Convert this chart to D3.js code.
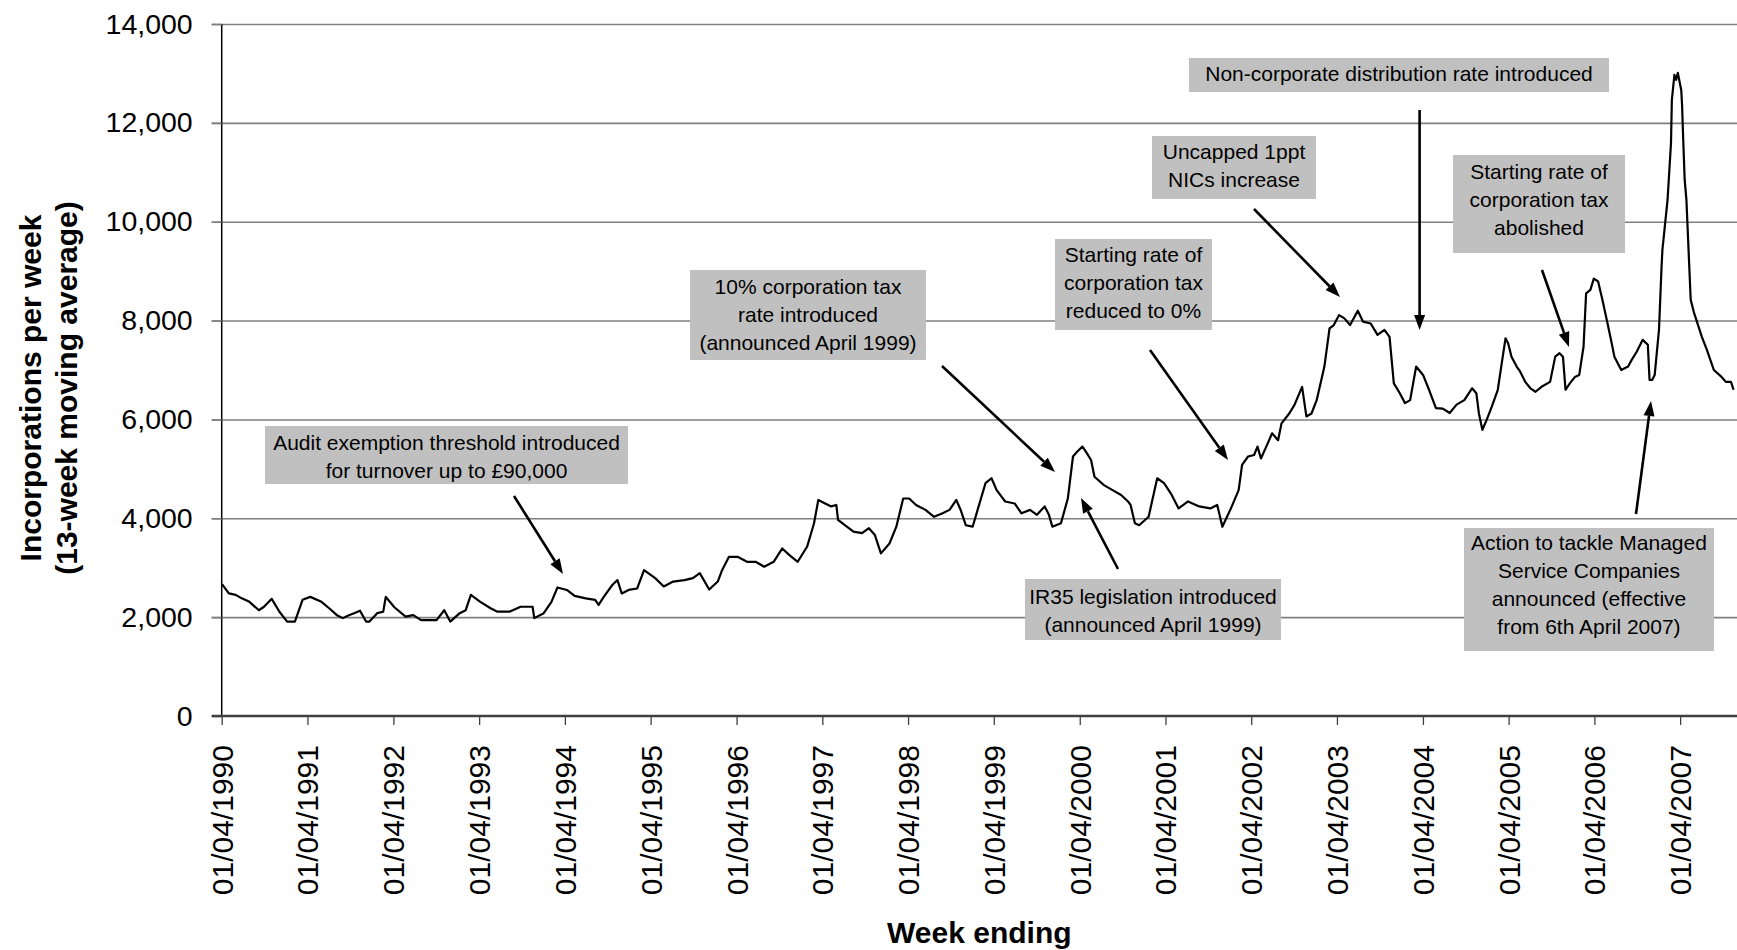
<!DOCTYPE html>
<html>
<head>
<meta charset="utf-8">
<script src="https://cdn.jsdelivr.net/npm/d3@7"></script>
<style>
  html, body { margin: 0; padding: 0; background: #fff; }
  svg { display: block; }
  text { font-family: "Liberation Sans", Arial, Helvetica, sans-serif; }
</style>
</head>
<body>
<svg id="chart" width="1737" height="950"></svg>
<script>
// ---------------- DATA ----------------
// week ending, expressed as decimal years
const weekEnding = [
  1990.25,1990.33,1990.41,1990.48,1990.57,1990.68,1990.74,1990.83,1990.92,1991.01,
  1991.10,1991.19,1991.28,1991.41,1991.50,1991.59,1991.66,1991.73,1991.79,1991.86,
  1991.93,1991.97,1992.06,1992.13,1992.16,1992.26,1992.39,1992.48,1992.57,1992.75,
  1992.84,1992.91,1993.02,1993.09,1993.15,1993.26,1993.38,1993.46,1993.60,1993.73,
  1993.87,1993.89,1994.00,1994.09,1994.16,1994.27,1994.36,1994.49,1994.60,1994.64,
  1994.70,1994.80,1994.86,1994.91,1994.99,1995.09,1995.17,1995.30,1995.40,1995.51,
  1995.64,1995.74,1995.82,1995.93,1996.03,1996.08,1996.16,1996.26,1996.37,1996.47,
  1996.57,1996.68,1996.78,1996.86,1996.96,1997.07,1997.15,1997.20,1997.28,1997.35,
  1997.41,1997.43,1997.51,1997.61,1997.71,1997.79,1997.86,1997.93,1998.03,1998.11,
  1998.19,1998.26,1998.34,1998.45,1998.55,1998.65,1998.73,1998.81,1998.86,1998.92,
  1999.00,1999.07,1999.15,1999.22,1999.28,1999.38,1999.49,1999.57,1999.67,1999.75,
  1999.84,1999.89,1999.93,2000.03,2000.11,2000.17,2000.22,2000.28,2000.32,2000.38,
  2000.42,2000.53,2000.63,2000.73,2000.81,2000.84,2000.89,2000.94,2001.05,2001.15,
  2001.23,2001.31,2001.40,2001.51,2001.64,2001.77,2001.85,2001.91,2002.01,2002.10,
  2002.14,2002.21,2002.28,2002.32,2002.36,2002.43,2002.49,2002.56,2002.60,2002.69,
  2002.75,2002.84,2002.89,2002.95,2003.01,2003.10,2003.16,2003.21,2003.27,2003.33,
  2003.40,2003.49,2003.55,2003.64,2003.72,2003.80,2003.86,2003.91,2003.98,2004.04,
  2004.10,2004.17,2004.25,2004.32,2004.40,2004.48,2004.56,2004.64,2004.73,2004.82,
  2004.87,2004.90,2004.94,2004.99,2005.05,2005.12,2005.16,2005.21,2005.24,2005.28,
  2005.34,2005.38,2005.44,2005.50,2005.56,2005.63,2005.73,2005.79,2005.84,2005.88,
  2005.91,2005.96,2006.02,2006.07,2006.12,2006.15,2006.20,2006.24,2006.29,2006.34,
  2006.40,2006.44,2006.48,2006.56,2006.64,2006.68,2006.74,2006.81,2006.87,2006.89,
  2006.92,2006.95,2007.00,2007.03,2007.04,2007.10,2007.14,2007.15,2007.18,2007.20,
  2007.22,2007.26,2007.27,2007.28,2007.30,2007.32,2007.37,2007.41,2007.45,2007.50,
  2007.56,2007.60,2007.64,2007.73,2007.78,2007.84,2007.87
];
// incorporations per week (13-week moving average)
const incorporations = [
  2670,2480,2450,2380,2310,2140,2210,2370,2110,1910,
  1910,2350,2410,2310,2180,2040,1980,2040,2080,2130,
  1910,1910,2080,2110,2410,2200,2010,2040,1940,1940,
  2140,1910,2080,2140,2450,2310,2180,2110,2110,2210,
  2210,1980,2080,2310,2600,2550,2430,2380,2350,2250,
  2410,2650,2750,2480,2550,2580,2950,2790,2620,2720,
  2750,2790,2890,2560,2720,2950,3220,3220,3120,3120,
  3020,3120,3390,3260,3120,3430,3900,4370,4300,4240,
  4270,3970,3860,3730,3700,3800,3660,3290,3490,3830,
  4400,4400,4270,4170,4030,4100,4170,4370,4170,3860,
  3830,4240,4710,4810,4570,4340,4300,4100,4170,4070,
  4240,4070,3830,3900,4400,5250,5350,5450,5350,5180,
  4840,4670,4570,4470,4340,4270,3900,3860,4030,4810,
  4710,4500,4200,4340,4240,4200,4270,3830,4200,4570,
  5080,5250,5280,5450,5210,5480,5720,5580,5920,6120,
  6290,6660,6060,6120,6390,7070,7840,7910,8110,8050,
  7910,8200,7980,7940,7710,7810,7670,6730,6530,6330,
  6390,7070,6900,6600,6230,6220,6130,6300,6390,6630,
  6530,6120,5790,5990,6260,6600,7070,7640,7540,7270,
  7070,6970,6760,6630,6560,6660,6760,7270,7340,7270,
  6600,6730,6860,6900,7470,8550,8620,8850,8790,8420,
  7940,7610,7270,7000,7070,7200,7370,7610,7510,6800,
  6800,6900,7810,9090,9430,10440,11590,12460,12970,12870,
  13010,12660,12330,11790,10840,10440,8420,8150,7940,7670,
  7400,7200,7000,6860,6760,6760,6600
];
const yTicks = [0, 2000, 4000, 6000, 8000, 10000, 12000, 14000];
const xTickYears = [1990,1991,1992,1993,1994,1995,1996,1997,1998,1999,2000,2001,2002,2003,2004,2005,2006,2007];

// annotation texts and where they point (decimal year / value of target)
const noteTexts = [
  ["Audit exemption threshold introduced", "for turnover up to £90,000"],
  ["10% corporation tax", "rate introduced", "(announced April 1999)"],
  ["Starting rate of", "corporation tax", "reduced to 0%"],
  ["Uncapped 1ppt", "NICs increase"],
  ["Non-corporate distribution rate introduced"],
  ["Starting rate of", "corporation tax", "abolished"],
  ["IR35 legislation introduced", "(announced April 1999)"],
  ["Action to tackle Managed", "Service Companies", "announced (effective", "from 6th April 2007)"]
];

// ---------------- LAYOUT ----------------
const W = 1737, H = 950;
const plotLeft = 221.7, plotRight = 1737, plotTop = 24, plotBottom = 716;

function decToDate(t) {
  const y = Math.floor(t);
  const s = new Date(y, 0, 1), e = new Date(y + 1, 0, 1);
  return new Date(+s + (t - y) * (e - s));
}

const x = d3.scaleTime()
  .domain([new Date(1990, 3, 1), decToDate(2007.91)])
  .range([plotLeft, plotRight]);
const y = d3.scaleLinear().domain([0, 14000]).range([plotBottom, plotTop]);

const svg = d3.select("#chart");
svg.append("rect").attr("width", W).attr("height", H).attr("fill", "#fff");

// gridlines
const grid = svg.append("g").attr("transform", `translate(${plotLeft},0)`)
  .call(d3.axisLeft(y).tickValues(yTicks.filter(v => v > 0)).tickSize(-(plotRight - plotLeft)).tickFormat(""));
grid.select(".domain").remove();
grid.selectAll("line").attr("stroke", "#808080").attr("stroke-width", 1.6).attr("x1", -10);

// y axis
const yAxis = svg.append("g").attr("transform", `translate(${plotLeft},0)`)
  .call(d3.axisLeft(y).tickValues(yTicks).tickFormat(d3.format(",")).tickSize(10).tickPadding(19));
yAxis.select(".domain").attr("stroke", "#000").attr("stroke-width", 1.5)
  .attr("d", `M0,${plotTop}V${plotBottom}`);
yAxis.selectAll(".tick line").attr("stroke", "#808080").attr("stroke-width", 1.6);
yAxis.selectAll(".tick text")
  .attr("font-size", 28.5).attr("fill", "#000")
  .attr("font-family", "'Liberation Sans', Arial, sans-serif");

// x axis
const xAxis = svg.append("g").attr("transform", `translate(0,${plotBottom})`)
  .call(d3.axisBottom(x)
    .tickValues(xTickYears.map(yr => new Date(yr, 3, 1)))
    .tickFormat(d3.timeFormat("%d/%m/%Y"))
    .tickSize(9).tickPadding(0));
xAxis.select(".domain").attr("stroke", "#404040").attr("stroke-width", 2.6)
  .attr("d", `M${plotLeft - 10},0H${plotRight}`);
xAxis.selectAll(".tick line").attr("stroke", "#404040").attr("stroke-width", 1.3);
xAxis.selectAll(".tick text")
  .attr("font-size", 30).attr("fill", "#000")
  .attr("font-family", "'Liberation Sans', Arial, sans-serif")
  .attr("text-anchor", "end")
  .attr("transform", "rotate(-90)")
  .attr("x", -29).attr("y", 0).attr("dy", "0.35em");

// axis titles
svg.append("text")
  .attr("x", (plotLeft + plotRight) / 2).attr("y", 943)
  .attr("text-anchor", "middle").attr("font-size", 30).attr("font-weight", "bold")
  .text("Week ending");
const yTitle = svg.append("text")
  .attr("transform", "translate(0,388) rotate(-90)")
  .attr("text-anchor", "middle").attr("font-size", 30).attr("font-weight", "bold");
yTitle.append("tspan").attr("x", 0).attr("y", 40.5).text("Incorporations per week");
yTitle.append("tspan").attr("x", 0).attr("y", 76.5).text("(13-week moving average)");

// data line
const series = weekEnding.map((t, i) => ({ date: decToDate(t), value: incorporations[i] }));
svg.append("path")
  .datum(series)
  .attr("fill", "none").attr("stroke", "#000").attr("stroke-width", 2.2)
  .attr("stroke-linejoin", "round")
  .attr("d", d3.line().x(d => x(d.date)).y(d => y(d.value)));

// annotation boxes (layout positions in pixels)
const boxes = [
  { x0: 265, y0: 426, x1: 628, y1: 484, cy: 442.5 },
  { x0: 690, y0: 270, x1: 926, y1: 360, cy: 286 },
  { x0: 1055, y0: 239, x1: 1212, y1: 330, cy: 254 },
  { x0: 1152, y0: 136, x1: 1316, y1: 199, cy: 151.5 },
  { x0: 1189, y0: 58, x1: 1609, y1: 92, cy: 73 },
  { x0: 1453, y0: 155, x1: 1625, y1: 253, cy: 171.5 },
  { x0: 1025, y0: 579, x1: 1281, y1: 640, cy: 596 },
  { x0: 1464, y0: 528, x1: 1714, y1: 651, cy: 542.5 }
];
const lineGap = 28;
boxes.forEach((b, i) => {
  svg.append("rect").attr("x", b.x0).attr("y", b.y0)
    .attr("width", b.x1 - b.x0).attr("height", b.y1 - b.y0).attr("fill", "#c0c0c0");
  const t = svg.append("text").attr("text-anchor", "middle").attr("font-size", 21).attr("fill", "#000");
  noteTexts[i].forEach((s, j) => {
    t.append("tspan").attr("x", (b.x0 + b.x1) / 2).attr("y", b.cy + j * lineGap + 7.5).text(s);
  });
});

// arrows
const arrows = [
  [514, 496, 563, 574],
  [942, 366, 1055, 472],
  [1150, 350, 1228, 460],
  [1254, 209, 1340, 297],
  [1419.6, 110, 1419.6, 330],
  [1542, 270, 1569, 347],
  [1118, 569, 1081, 498],
  [1636, 514, 1651, 401]
];
arrows.forEach(([x1, y1, x2, y2]) => {
  const ang = Math.atan2(y2 - y1, x2 - x1);
  const L = 15, hw = 5.5;
  const bx = x2 - L * Math.cos(ang), by = y2 - L * Math.sin(ang);
  svg.append("line").attr("x1", x1).attr("y1", y1).attr("x2", bx).attr("y2", by)
    .attr("stroke", "#000").attr("stroke-width", 2.6);
  const px = -Math.sin(ang) * hw, py = Math.cos(ang) * hw;
  svg.append("path")
    .attr("d", `M${x2},${y2}L${bx + px},${by + py}L${bx - px},${by - py}Z`)
    .attr("fill", "#000");
});
</script>
</body>
</html>
